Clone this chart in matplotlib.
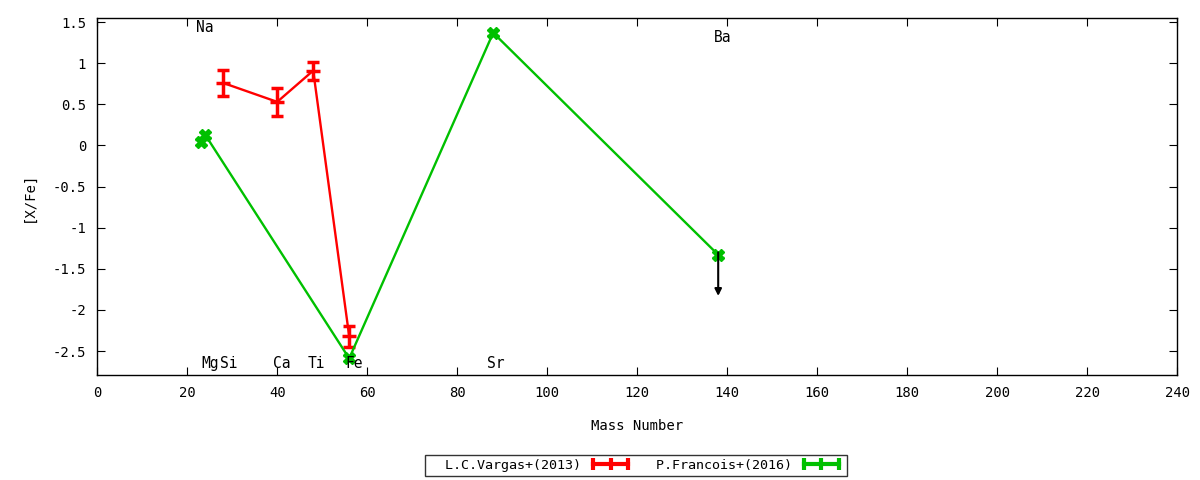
import matplotlib.pyplot as plt
from matplotlib.lines import Line2D

plt.rcParams['font.family'] = ['DejaVu Sans Mono']
plt.rcParams['font.size'] = 10

# L.C.Vargas+(2013)
vargas_A = [28, 40, 48, 56]
vargas_XFe = [0.76, 0.53, 0.91, -2.32]
vargas_err = [0.16, 0.17, 0.11, 0.13]

# P.Francois+(2016)
francois_A = [23, 24, 56, 88, 138]
francois_XFe = [0.04, 0.13, -2.59, 1.37, -1.33]
francois_err = [0.03, 0.03, 0.03, 0.03, 0.03]

# upper limit arrow (Ba)
limit_A = [138]
limit_XFe = [-1.33]
limit_len = 0.5

elem_names = ['Na', 'Mg', 'Si', 'Ca', 'Ti', 'Fe', 'Sr', 'Ba']
elem_x = [24, 25.2, 29.2, 41, 48.8, 57, 88.5, 139]
elem_y = [1.43, -2.65, -2.65, -2.65, -2.65, -2.65, -2.65, 1.31]

fig = plt.figure(figsize=(12, 4.8), dpi=100)
ax = fig.add_axes([0.081, 0.219, 0.9, 0.7435])

red = '#ff0000'
green = '#00c000'

ax.errorbar(vargas_A, vargas_XFe, yerr=vargas_err, color=red, lw=1.7,
            elinewidth=2.5, capsize=4, capthick=2.5, marker='_', ms=10, mew=2.5)
ax.errorbar(francois_A, francois_XFe, yerr=francois_err, color=green, lw=1.7,
            elinewidth=2.5, capsize=4, capthick=2.5, marker='X', ms=8, mew=1)

for a, v in zip(limit_A, limit_XFe):
    ax.annotate('', xy=(a, v - limit_len), xytext=(a, v + 0.03),
                arrowprops=dict(arrowstyle='-|>', color='black', lw=1.5,
                                mutation_scale=10, shrinkA=0, shrinkB=0))

for n, x, y in zip(elem_names, elem_x, elem_y):
    ax.text(x, y, n, ha='center', va='center', fontsize=10.5)

ax.set_xlim(0, 240)
ax.set_ylim(-2.79, 1.55)
ax.set_xticks(range(0, 241, 20))
ax.set_yticks([-2.5, -2, -1.5, -1, -0.5, 0, 0.5, 1, 1.5])
ax.set_yticklabels(['-2.5', '-2', '-1.5', '-1', '-0.5', '0', '0.5', '1', '1.5'])
ax.tick_params(direction='in', top=True, right=True, length=6, pad=8)
for s in ax.spines.values():
    s.set_linewidth(1)

ax.set_xlabel('Mass Number', labelpad=14)
ax.set_ylabel('[X/Fe]', labelpad=12)

# gnuplot-like legend samples: horizontal bar with caps
h1 = Line2D([], [], color=red, lw=3, marker='|', ms=9, mew=3)
h2 = Line2D([], [], color=green, lw=3, marker='|', ms=9, mew=3)
leg = fig.legend([h1, h2], ['  L.C.Vargas+(2013)', '  P.Francois+(2016)'],
                 loc='center', bbox_to_anchor=(0.53, 0.031), ncol=2,
                 markerfirst=False, frameon=True, fancybox=False, edgecolor='black',
                 borderpad=0.3, handlelength=3.2, columnspacing=0.6,
                 handletextpad=0.6, numpoints=3, fontsize=9.6)
leg.get_frame().set_linewidth(1)

fig.savefig('out.png', dpi=100)
